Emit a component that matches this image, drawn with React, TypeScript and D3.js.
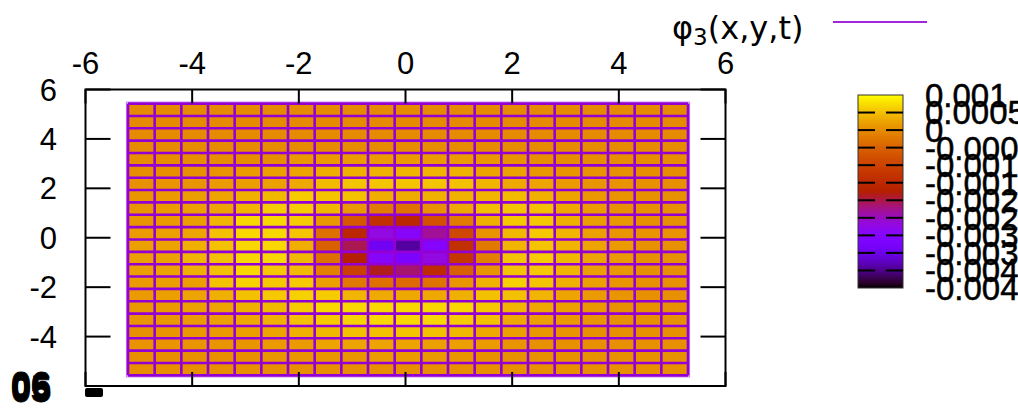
import React from 'react';
import * as d3 from 'd3';

// grid cell centres (x across, y top to bottom)
const xCenters = [-5, -4.5, -4, -3.5, -3, -2.5, -2, -1.5, -1, -0.5, 0, 0.5, 1, 1.5, 2, 2.5, 3, 3.5, 4, 4.5, 5];
const yCenters = [5.25, 4.75, 4.25, 3.75, 3.25, 2.75, 2.25, 1.75, 1.25, 0.75, 0.25, -0.25, -0.75, -1.25, -1.75, -2.25, -2.75, -3.25, -3.75, -4.25, -4.75, -5.25];

// phi3 values, in units of 1e-4, one row per y centre
const phiRows = [
  [-0.2, -0.2, -0.2, -0.2, -0.2, -0.2, -0.2, -0.2, -0.2, -0.2, -0.2, -0.2, -0.2, -0.2, -0.2, -0.2, -0.2, -0.2, -0.2, -0.2, -0.2],
  [-0.2, -0.2, -0.2, -0.2, -0.2, -0.2, -0.2, -0.2, -0.2, -0.2, -0.2, -0.2, -0.2, -0.2, -0.2, -0.2, -0.2, -0.2, -0.2, -0.2, -0.2],
  [-0.2, -0.2, -0.2, -0.2, -0.2, -0.2, -0.2, -0.2, -0.2, -0.2, -0.2, -0.2, -0.2, -0.2, -0.2, -0.2, -0.2, -0.2, -0.2, -0.2, -0.2],
  [-0.2, -0.2, -0.2, -0.2, -0.2, -0.2, -0.2, -0.2, -0.2, -0.2, 0, 0, 0, -0.2, -0.2, -0.2, -0.2, -0.2, -0.2, -0.2, -0.2],
  [0.1, 0.1, 0.1, 0.1, 0.1, 0.3, 1.3, 1.6, 1.6, 1.6, 1.6, 1.6, 1.6, 1.3, 0.7, 0.4, 0.2, 0.1, 0.1, 0.1, 0.1],
  [0.3, 0.4, 0.6, 0.9, 1.6, 2.1, 2.5, 3.3, 3.6, 3.8, 4.0, 4.0, 3.8, 2.5, 2.3, 1.3, 1.0, 0.8, 0.6, 0.4, 0.3],
  [0.6, 0.9, 1.0, 1.6, 1.9, 2.1, 2.9, 4.5, 5.4, 5.4, 5.4, 5.4, 5.1, 4.0, 2.9, 2.5, 1.6, 1.0, 0.8, 0.6, 0.4],
  [1.0, 1.6, 1.9, 2.5, 3.6, 4.3, 6.0, 5.4, 5.1, 3.3, 3.2, 3.6, 3.8, 4.0, 4.6, 3.6, 2.5, 1.2, 0.8, 0.6, 0.6],
  [1.0, 1.6, 2.1, 2.5, 4.0, 6.0, 6.0, 4.3, 1.3, -1.8, -3.0, 0.5, 2.9, 4.8, 5.4, 5.1, 2.9, 1.6, 0.6, 0.6, 0.6],
  [1.0, 1.6, 1.9, 4.0, 7.0, 7.0, 6.0, 1.3, -6.5, -13.5, -15.5, -7.7, -1.8, 3.6, 5.7, 5.7, 3.6, 1.9, 1.3, 0.6, 0.6],
  [1.6, 2.1, 2.5, 5.1, 7.0, 7.0, 5.4, -3.2, -15.5, -27, -29.5, -23, -9, 0.8, 4.3, 5.7, 4.0, 2.1, 1.0, 0.8, 0.8],
  [2.1, 2.3, 3.6, 5.1, 7.0, 7.0, 3.4, -5.3, -20.3, -34, -39, -30, -13.5, -2.2, 4.0, 5.4, 4.0, 2.5, 1.6, 0.6, 0.6],
  [2.1, 2.3, 4.0, 5.1, 7.0, 7.0, 4.3, -3.2, -17.5, -29.5, -32, -27, -12, -1.3, 5.4, 6.0, 4.3, 2.5, 1.6, 0.6, 0.6],
  [2.1, 2.3, 3.6, 5.1, 7.0, 5.7, 4.5, -1.3, -10.3, -18.5, -21.4, -14.5, -5.3, 1.0, 5.4, 5.7, 4.0, 2.1, 1.3, 0.6, 0.6],
  [1.6, 1.9, 2.1, 5.1, 6.7, 5.7, 5.7, 2.1, -2.2, -3.2, -4.0, -2.8, 1.0, 3.8, 6.4, 5.4, 3.6, 2.1, 1.0, 0.6, 0.6],
  [1.6, 2.1, 2.5, 3.6, 5.1, 5.7, 6.4, 6.0, 4.0, 3.0, 2.9, 2.9, 3.6, 5.1, 5.1, 4.0, 2.5, 1.6, 1.0, 0.6, 0.6],
  [1.3, 1.6, 2.1, 2.5, 3.6, 4.3, 6.0, 7.0, 7.0, 7.0, 7.0, 7.0, 7.0, 5.7, 4.0, 2.9, 2.1, 1.3, 0.6, 0.6, 0.6],
  [1.0, 1.3, 1.6, 2.1, 2.9, 3.6, 5.1, 6.0, 6.7, 7.0, 7.0, 7.0, 6.0, 5.1, 2.9, 2.1, 1.6, 1.0, 0.6, 0.6, 0.6],
  [0.6, 1.0, 1.3, 1.6, 2.1, 2.5, 3.6, 4.3, 5.1, 5.1, 5.4, 5.1, 4.3, 2.9, 2.1, 1.3, 1.0, 0.6, 0.6, 0.6, 0.6],
  [0.8, 0.9, 1.0, 1.0, 1.0, 1.6, 1.6, 2.5, 2.5, 2.5, 2.5, 2.1, 2.1, 1.6, 1.0, 0.6, 0.6, 0.6, 0.6, 0.6, 0.6],
  [0.4, 0.4, 0.4, 0.4, 0.4, 1.0, 1.0, 1.0, 1.0, 1.6, 1.6, 1.3, 1.0, 0.6, 0.6, 0.6, 0.6, 0.6, 0.6, 0.6, 0.6],
  [0.4, 0.4, 0.4, 0.4, 0.4, 0.4, 0.4, 0.4, 0.4, 0.4, 0.4, 0.4, 0.4, 0.4, 0.4, 0.4, 0.4, 0.4, 0.4, 0.4, 0.4],
];

const xTicks = [-6, -4, -2, 0, 2, 4, 6];
const yTicks = [6, 4, 2, 0, -2, -4];
const cbTicks = [0.001, 0.0005, 0, -0.0005, -0.001, -0.0015, -0.002, -0.0025, -0.003, -0.0035, -0.004, -0.0045];
const cornerGlyphs = ['06', '05'];

const W = 1018;
const H = 411;
const FONT = '"Liberation Sans", Arial, sans-serif';
const MESH = '#9400d3';

// gnuplot default palette (rgbformulae 7,5,15)
const palette = (t: number) => {
  const c = Math.max(0, Math.min(1, t));
  const r = Math.sqrt(c);
  const g = c * c * c;
  const b = Math.max(0, Math.sin(2 * Math.PI * c));
  return d3.rgb(r * 255, g * 255, b * 255).formatHex();
};

const fmt = (v: number) => (v < 0 ? '-' : ' ') + d3.format('~g')(Math.abs(v));

export default function App() {
  const x = d3.scaleLinear().domain([-6, 6]).range([85.5, 725.5]);
  const y = d3.scaleLinear().domain([-6, 6]).range([386, 89.5]);
  const cbMin = d3.min(cbTicks) as number;
  const cbMax = d3.max(cbTicks) as number;
  const cbY = d3.scaleLinear().domain([cbMin, cbMax]).range([288, 95]);
  const toT = d3.scaleLinear().domain([cbMin, cbMax]).range([0, 1]).clamp(true);

  // small shift of the mesh inside the frame, as in the picture
  const dx = 0.047;
  const dy = -0.07;
  const half = 0.25;

  const xEdges = [xCenters[0] - half, ...xCenters.map((c) => c + half)];
  const yEdges = [yCenters[0] + half, ...yCenters.map((c) => c - half)];
  const gx0 = x(xEdges[0] + dx);
  const gx1 = x(xEdges[xEdges.length - 1] + dx);
  const gy0 = y(yEdges[0] + dy);
  const gy1 = y(yEdges[yEdges.length - 1] + dy);

  const cbX0 = 858;
  const cbX1 = 903;
  const stops = d3.range(0, 1.0001, 0.02);

  return (
    <div style={{ position: 'fixed', left: 0, top: 0, width: W, height: H, background: '#fff' }}>
      <svg width={W} height={H} style={{ display: 'block', fontFamily: FONT }}>
        <defs>
          <linearGradient id="cbGrad" x1="0" y1="1" x2="0" y2="0">
            {stops.map((s) => (
              <stop key={s} offset={s} stopColor={palette(s)} />
            ))}
          </linearGradient>
        </defs>

        {/* surface cells */}
        <g>
          {phiRows.map((row, j) =>
            row.map((v, i) => {
              const x0 = x(xCenters[i] - half + dx);
              const x1 = x(xCenters[i] + half + dx);
              const y0 = y(yCenters[j] + half + dy);
              const y1 = y(yCenters[j] - half + dy);
              return (
                <rect key={`${i}-${j}`} x={x0} y={y0} width={x1 - x0 + 0.5} height={y1 - y0 + 0.5}
                  fill={palette(toT(v * 1e-4))} />
              );
            })
          )}
        </g>

        {/* mesh lines */}
        <rect x={gx0 - 1.5} y={gy0 - 1.5} width={gx1 - gx0 + 3} height={gy1 - gy0 + 3}
          fill="none" stroke="#cf8cf0" strokeWidth={1.2} />
        <g stroke={MESH} strokeWidth={2.6}>
          {xEdges.map((e, i) => (
            <line key={`v${i}`} x1={x(e + dx)} x2={x(e + dx)} y1={gy0} y2={gy1} />
          ))}
          {yEdges.map((e, j) => (
            <line key={`h${j}`} x1={gx0} x2={gx1} y1={y(e + dy)} y2={y(e + dy)} />
          ))}
        </g>

        {/* frame and ticks */}
        <rect x={x(-6)} y={y(6)} width={x(6) - x(-6)} height={y(-6) - y(6)}
          fill="none" stroke="#000" strokeWidth={2} />
        <g stroke="#000" strokeWidth={2}>
          {xTicks.map((t) => (
            <g key={`xt${t}`}>
              <line x1={x(t)} x2={x(t)} y1={y(6)} y2={y(6) + 14} />
              <line x1={x(t)} x2={x(t)} y1={y(-6)} y2={y(-6) - 14} />
            </g>
          ))}
          {yTicks.map((t) => (
            <g key={`yt${t}`}>
              <line x1={x(-6)} x2={x(-6) + 25} y1={y(t)} y2={y(t)} />
              <line x1={x(6)} x2={x(6) - 25} y1={y(t)} y2={y(t)} />
            </g>
          ))}
        </g>

        {/* tick labels */}
        <g fontSize={31} fill="#000" style={{ whiteSpace: 'pre' }}>
          {xTicks.map((t) => (
            <text key={`xl${t}`} x={x(t)} y={74} textAnchor="middle">{fmt(t)}</text>
          ))}
          {yTicks.map((t) => (
            <text key={`yl${t}`} x={57} y={y(t)} dy="0.36em" textAnchor="end">{fmt(t)}</text>
          ))}
          {cornerGlyphs.map((g, k) => (
            <text key={`cg${k}`} x={11} y={398 + k * 4} fontSize={36} fontWeight="bold" stroke="#000" strokeWidth={0.8}>{g}</text>
          ))}
        </g>
        <rect x={85} y={388} width={18} height={9} rx={2} fill="#000" />

        {/* colour box */}
        <rect x={cbX0} y={cbY(cbMax)} width={cbX1 - cbX0} height={cbY(cbMin) - cbY(cbMax)}
          fill="url(#cbGrad)" stroke="#333" strokeWidth={1} />
        <g stroke="#000" strokeWidth={2}>
          {cbTicks.slice(1, -1).map((t) => (
            <g key={`cbt${t}`}>
              <line x1={cbX0} x2={cbX0 + 17} y1={cbY(t)} y2={cbY(t)} />
              <line x1={cbX1 - 17} x2={cbX1} y1={cbY(t)} y2={cbY(t)} />
            </g>
          ))}
        </g>
        <g fontSize={33} fill="#000" stroke="#000" strokeWidth={0.5} style={{ whiteSpace: 'pre' }}>
          {cbTicks.map((t) => (
            <text key={`cbl${t}`} x={925} y={cbY(t)} dy="0.36em">{fmt(t)}</text>
          ))}
        </g>

        {/* key */}
        <text x={672} y={39} fontSize={32} fill="#000" fontFamily='"DejaVu Sans", sans-serif'>
          φ<tspan fontSize={23} dy={6}>3</tspan><tspan dy={-6}>(x,y,t)</tspan>
        </text>
        <line x1={833} x2={927} y1={22} y2={22} stroke={MESH} strokeWidth={2} strokeOpacity={0.85} />
      </svg>
    </div>
  );
}
